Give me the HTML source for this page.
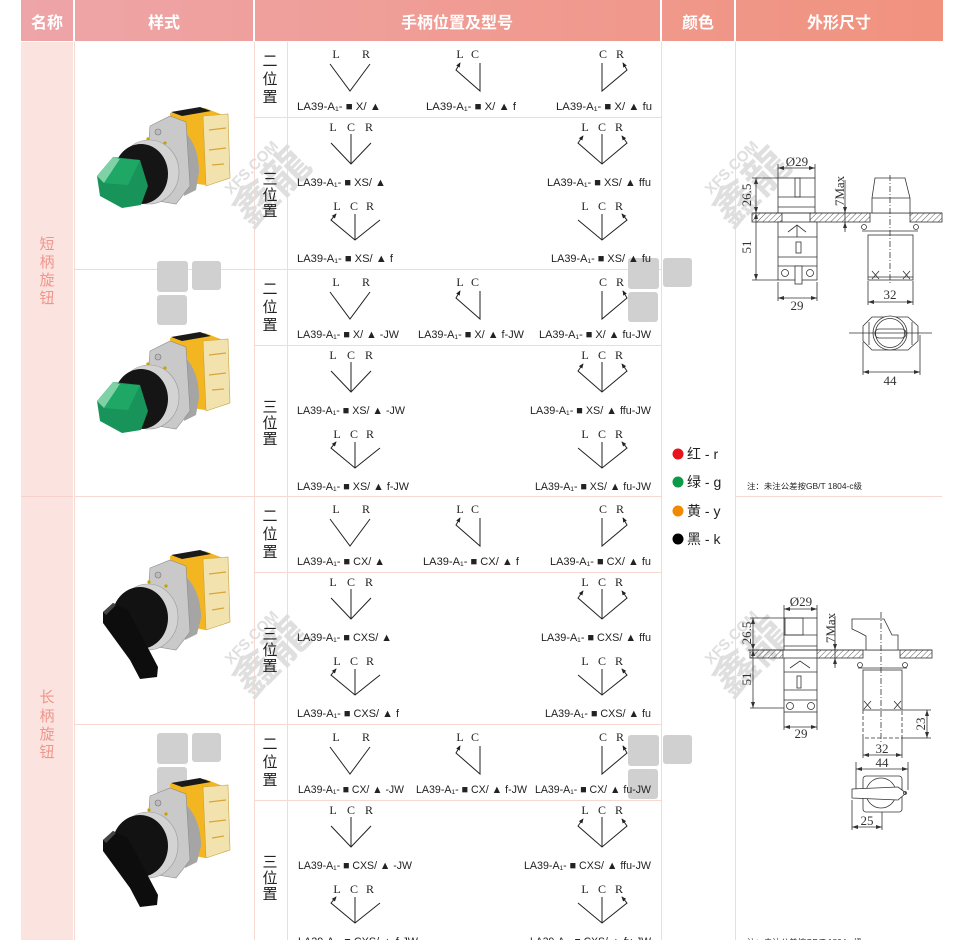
<!DOCTYPE html>
<html><head><meta charset="utf-8">
<style>
html,body{margin:0;padding:0;background:#fff;width:970px;height:940px;overflow:hidden}
svg{display:block}
.m{font-family:"Liberation Sans","Noto Sans CJK SC",sans-serif;font-size:11px;fill:#222}
.lb{font-family:"Liberation Serif",serif;font-size:12px;fill:#222;text-anchor:middle}
.pos{font-family:"Liberation Sans","Noto Sans CJK SC",sans-serif;font-size:15px;fill:#222;text-anchor:middle}
.side{font-family:"Liberation Sans","Noto Sans CJK SC",sans-serif;font-size:15px;fill:#f0958b;text-anchor:middle}
.hd{font-family:"Liberation Sans","Noto Sans CJK SC",sans-serif;font-size:16px;font-weight:bold;fill:#fff;text-anchor:middle}
.dt{font-family:"Liberation Serif",serif;font-size:13px;fill:#333;text-anchor:middle}
.clr{font-family:"Liberation Sans","Noto Sans CJK SC",sans-serif;font-size:14px;fill:#222}
.wm{font-family:"Liberation Sans","Noto Sans CJK SC",sans-serif;fill:#dcdcdc;font-weight:bold;text-anchor:middle}
</style></head><body>
<svg width="970" height="940" viewBox="0 0 970 940" xmlns="http://www.w3.org/2000/svg">
<defs>
<linearGradient id="hdr" gradientUnits="userSpaceOnUse" x1="21" y1="0" x2="943" y2="0">
<stop offset="0" stop-color="#eea5a8"/><stop offset="1" stop-color="#f1927e"/>
</linearGradient>
<marker id="ah" viewBox="0 0 6 6" markerWidth="5" markerHeight="5" refX="5" refY="3" orient="auto-start-reverse" markerUnits="userSpaceOnUse"><path d="M0,0.5 L6,3 L0,5.5 z" fill="#222"/></marker>
<marker id="dm" viewBox="0 0 6 4" markerWidth="6" markerHeight="4" refX="6" refY="2" orient="auto-start-reverse" markerUnits="userSpaceOnUse"><path d="M0,0 L6,2 L0,4 z" fill="#333"/></marker>
<pattern id="hatch" width="4" height="4" patternUnits="userSpaceOnUse" patternTransform="rotate(45)"><line x1="0" y1="0" x2="0" y2="4" stroke="#333" stroke-width="0.8"/></pattern>

<g id="g2" fill="none" stroke="#222" stroke-width="1">
<polyline points="330,23 350,50 370,23"/>
<polyline points="480,22 480,50 456,29 460,22" marker-end="url(#ah)"/>
<polyline points="602,22 602,50 627,29 623,22" marker-end="url(#ah)"/>
</g>
<g id="g3a" fill="none" stroke="#222" stroke-width="1">
<polyline points="331,26 351,47 371,26"/><line x1="351" y1="17" x2="351" y2="47"/>
<polyline points="583,19 578,26 602,47 627,26 622,19" marker-start="url(#ah)" marker-end="url(#ah)"/>
<line x1="602" y1="17" x2="602" y2="47"/>
</g>
<g id="g3b" fill="none" stroke="#222" stroke-width="1">
<polyline points="336,21 331,27 355,47 380,27" marker-start="url(#ah)"/>
<line x1="355" y1="21" x2="355" y2="47"/>
<polyline points="578,27 602,47 627,27 622,21" marker-end="url(#ah)"/>
<line x1="602" y1="21" x2="602" y2="47"/>
</g>

<g id="pshort">
<polygon points="170,113 205,108 228,117 229,178 205,185 185,182 174,175" fill="#f3b620"/>
<polygon points="171,112 200,107 211,111 182,116" fill="#1a1a1a"/>
<polygon points="203,116 228,114 230,178 206,186" fill="#f2e2ae" stroke="#c9a13a" stroke-width="0.6"/>
<path d="M209,130 L226,128 M209,150 L226,148 M212,165 L224,164" stroke="#d8a53a" stroke-width="1.2"/>
<path d="M176,124 Q199,140 199,172 L196,190 L184,196 Q188,160 172,130 Z" fill="#a5a5a5"/>
<polygon points="150,126 170,116 186,122 190,186 176,204 152,200 146,178" fill="#c9c9c9" stroke="#8c8c8c" stroke-width="0.6"/>
<circle cx="158" cy="132" r="3" fill="#bbb" stroke="#777" stroke-width="0.6"/>
<circle cx="148" cy="139" r="1.6" fill="#c8a000"/>
<circle cx="165" cy="143" r="1.6" fill="#c8a000"/>
<ellipse cx="149" cy="172" rx="30" ry="32" fill="#d3d3d3" stroke="#9a9a9a" stroke-width="0.6"/>
<ellipse cx="141" cy="174" rx="27" ry="30" fill="#151515"/>
<polygon points="97,176 113,157 140,160 148,186 141,205 122,208 100,196" fill="#18945a"/>
<polygon points="97,176 113,157 120,159 104,183" fill="#7fd1a6"/>
<polygon points="104,183 120,159 140,160 128,185" fill="#1fa865"/>
</g>
<g id="plong">
<polygon points="170,556 205,551 228,560 229,622 205,630 185,626 174,618" fill="#f3b620"/>
<polygon points="171,555 200,550 211,554 182,559" fill="#1a1a1a"/>
<polygon points="203,559 228,557 230,622 206,630" fill="#f2e2ae" stroke="#c9a13a" stroke-width="0.6"/>
<path d="M209,574 L226,572 M209,594 L226,592 M212,610 L224,608" stroke="#d8a53a" stroke-width="1.2"/>
<path d="M176,568 Q201,585 201,618 L197,634 L185,640 Q189,604 172,574 Z" fill="#a5a5a5"/>
<polygon points="150,568 170,560 186,566 190,632 176,650 152,646 146,622" fill="#c9c9c9" stroke="#8c8c8c" stroke-width="0.6"/>
<circle cx="158" cy="575" r="3" fill="#bbb" stroke="#777" stroke-width="0.6"/>
<circle cx="149" cy="582" r="1.6" fill="#c8a000"/>
<circle cx="166" cy="586" r="1.6" fill="#c8a000"/>
<ellipse cx="148" cy="617" rx="30" ry="33" fill="#d3d3d3" stroke="#9a9a9a" stroke-width="0.6"/>
<ellipse cx="140" cy="618" rx="28" ry="31" fill="#121212"/>
<polygon points="103,612 113,603 128,610 158,667 157,677 140,679 130,660 103,623" fill="#0d0d0d"/>
<polygon points="103,612 113,603 116,605 106,615" fill="#444"/>
</g>
<g id="logo" fill="#d0d0d0">
<rect x="0" y="0" width="31" height="31" rx="3"/>
<rect x="35" y="0" width="29" height="29" rx="3"/>
<rect x="0" y="34" width="30" height="30" rx="3"/>
</g>
</defs>

<!-- header -->
<rect x="21" y="0" width="52" height="41" fill="url(#hdr)"/>
<rect x="75" y="0" width="178" height="41" fill="url(#hdr)"/>
<rect x="255" y="0" width="405" height="41" fill="url(#hdr)"/>
<rect x="662" y="0" width="72" height="41" fill="url(#hdr)"/>
<rect x="736" y="0" width="207" height="41" fill="url(#hdr)"/>
<text class="hd" x="47" y="28">名称</text>
<text class="hd" x="164" y="28">样式</text>
<text class="hd" x="457" y="28">手柄位置及型号</text>
<text class="hd" x="698" y="28">颜色</text>
<text class="hd" x="839" y="28">外形尺寸</text>

<!-- left column -->
<rect x="21" y="42" width="52" height="898" fill="#fbe4e0"/>
<line x1="21" y1="496.5" x2="73" y2="496.5" stroke="#f7d2cc" stroke-width="1"/>
<text class="side" x="47" y="249">短</text>
<text class="side" x="47" y="267">柄</text>
<text class="side" x="47" y="285">旋</text>
<text class="side" x="47" y="303">钮</text>
<text class="side" x="47" y="702">长</text>
<text class="side" x="47" y="721">柄</text>
<text class="side" x="47" y="739">旋</text>
<text class="side" x="47" y="757">钮</text>

<!-- grid -->
<g stroke="#f8d8d3" stroke-width="1">
<line x1="74.5" y1="42" x2="74.5" y2="940"/>
<line x1="254.5" y1="42" x2="254.5" y2="940"/>
<line x1="287.5" y1="42" x2="287.5" y2="940"/>
<line x1="661.5" y1="42" x2="661.5" y2="940"/>
<line x1="735.5" y1="42" x2="735.5" y2="940"/>
<line x1="255" y1="117.5" x2="661" y2="117.5"/>
<line x1="255" y1="345.5" x2="661" y2="345.5"/>
<line x1="255" y1="572.5" x2="661" y2="572.5"/>
<line x1="255" y1="800.5" x2="661" y2="800.5"/>
<line x1="74" y1="269.5" x2="661" y2="269.5"/>
<line x1="74" y1="496.5" x2="661" y2="496.5"/>
<line x1="74" y1="724.5" x2="661" y2="724.5"/>
<line x1="736" y1="496.5" x2="942" y2="496.5"/>
</g>

<!-- watermarks -->
<use href="#logo" transform="translate(157,261)"/>
<use href="#logo" transform="translate(628,258)"/>
<use href="#logo" transform="translate(157,733)"/>
<use href="#logo" transform="translate(628,735)"/>
<g opacity="0.9">
<g transform="translate(272,188) rotate(-45)"><text class="wm" x="0" y="14" font-size="44">鑫龍</text><text class="wm" x="0" y="-24" font-size="15">XFS.COM</text></g>
<g transform="translate(752,188) rotate(-45)"><text class="wm" x="0" y="14" font-size="44">鑫龍</text><text class="wm" x="0" y="-24" font-size="15">XFS.COM</text></g>
<g transform="translate(272,658) rotate(-45)"><text class="wm" x="0" y="14" font-size="44">鑫龍</text><text class="wm" x="0" y="-24" font-size="15">XFS.COM</text></g>
<g transform="translate(752,658) rotate(-45)"><text class="wm" x="0" y="14" font-size="44">鑫龍</text><text class="wm" x="0" y="-24" font-size="15">XFS.COM</text></g>
</g>

<!-- products -->
<use href="#pshort"/>
<use href="#pshort" transform="translate(0,225)"/>
<use href="#plong"/>
<use href="#plong" transform="translate(0,228)"/>

<!-- position labels -->
<text class="pos" x="270" y="66">二</text><text class="pos" x="270" y="84">位</text><text class="pos" x="270" y="102">置</text>
<text class="pos" x="270" y="184">三</text><text class="pos" x="270" y="200">位</text><text class="pos" x="270" y="216">置</text>
<text class="pos" x="270" y="294">二</text><text class="pos" x="270" y="312">位</text><text class="pos" x="270" y="330">置</text>
<text class="pos" x="270" y="412">三</text><text class="pos" x="270" y="428">位</text><text class="pos" x="270" y="444">置</text>
<text class="pos" x="270" y="521">二</text><text class="pos" x="270" y="539">位</text><text class="pos" x="270" y="557">置</text>
<text class="pos" x="270" y="639">三</text><text class="pos" x="270" y="655">位</text><text class="pos" x="270" y="671">置</text>
<text class="pos" x="270" y="749">二</text><text class="pos" x="270" y="767">位</text><text class="pos" x="270" y="785">置</text>
<text class="pos" x="270" y="867">三</text><text class="pos" x="270" y="883">位</text><text class="pos" x="270" y="899">置</text>

<!-- diagrams lines -->
<use href="#g2" transform="translate(0,41)"/>
<use href="#g3a" transform="translate(0,117)"/>
<use href="#g3b" transform="translate(0,193)"/>
<use href="#g2" transform="translate(0,269)"/>
<use href="#g3a" transform="translate(0,345)"/>
<use href="#g3b" transform="translate(0,421)"/>
<use href="#g2" transform="translate(0,496)"/>
<use href="#g3a" transform="translate(0,572)"/>
<use href="#g3b" transform="translate(0,648)"/>
<use href="#g2" transform="translate(0,724)"/>
<use href="#g3a" transform="translate(0,800)"/>
<use href="#g3b" transform="translate(0,876)"/>

<!-- diagram letters -->
<g class="lb">
<text class="lb" x="336" y="58">L</text><text class="lb" x="366" y="58">R</text>
<text class="lb" x="460" y="58">L</text><text class="lb" x="475" y="58">C</text>
<text class="lb" x="603" y="58">C</text><text class="lb" x="620" y="58">R</text>
<text class="lb" x="333" y="131">L</text><text class="lb" x="351" y="131">C</text><text class="lb" x="369" y="131">R</text>
<text class="lb" x="585" y="131">L</text><text class="lb" x="602" y="131">C</text><text class="lb" x="619" y="131">R</text>
<text class="lb" x="337" y="210">L</text><text class="lb" x="354" y="210">C</text><text class="lb" x="370" y="210">R</text>
<text class="lb" x="585" y="210">L</text><text class="lb" x="602" y="210">C</text><text class="lb" x="619" y="210">R</text>

<text class="lb" x="336" y="286">L</text><text class="lb" x="366" y="286">R</text>
<text class="lb" x="460" y="286">L</text><text class="lb" x="475" y="286">C</text>
<text class="lb" x="603" y="286">C</text><text class="lb" x="620" y="286">R</text>
<text class="lb" x="333" y="359">L</text><text class="lb" x="351" y="359">C</text><text class="lb" x="369" y="359">R</text>
<text class="lb" x="585" y="359">L</text><text class="lb" x="602" y="359">C</text><text class="lb" x="619" y="359">R</text>
<text class="lb" x="337" y="438">L</text><text class="lb" x="354" y="438">C</text><text class="lb" x="370" y="438">R</text>
<text class="lb" x="585" y="438">L</text><text class="lb" x="602" y="438">C</text><text class="lb" x="619" y="438">R</text>

<text class="lb" x="336" y="513">L</text><text class="lb" x="366" y="513">R</text>
<text class="lb" x="460" y="513">L</text><text class="lb" x="475" y="513">C</text>
<text class="lb" x="603" y="513">C</text><text class="lb" x="620" y="513">R</text>
<text class="lb" x="333" y="586">L</text><text class="lb" x="351" y="586">C</text><text class="lb" x="369" y="586">R</text>
<text class="lb" x="585" y="586">L</text><text class="lb" x="602" y="586">C</text><text class="lb" x="619" y="586">R</text>
<text class="lb" x="337" y="665">L</text><text class="lb" x="354" y="665">C</text><text class="lb" x="370" y="665">R</text>
<text class="lb" x="585" y="665">L</text><text class="lb" x="602" y="665">C</text><text class="lb" x="619" y="665">R</text>

<text class="lb" x="336" y="741">L</text><text class="lb" x="366" y="741">R</text>
<text class="lb" x="460" y="741">L</text><text class="lb" x="475" y="741">C</text>
<text class="lb" x="603" y="741">C</text><text class="lb" x="620" y="741">R</text>
<text class="lb" x="333" y="814">L</text><text class="lb" x="351" y="814">C</text><text class="lb" x="369" y="814">R</text>
<text class="lb" x="585" y="814">L</text><text class="lb" x="602" y="814">C</text><text class="lb" x="619" y="814">R</text>
<text class="lb" x="337" y="893">L</text><text class="lb" x="354" y="893">C</text><text class="lb" x="370" y="893">R</text>
<text class="lb" x="585" y="893">L</text><text class="lb" x="602" y="893">C</text><text class="lb" x="619" y="893">R</text>
</g>

<!-- model texts -->
<text class="m" x="297" y="110" textLength="84" lengthAdjust="spacingAndGlyphs">LA39-A₁- ■ X/ ▲</text>
<text class="m" x="426" y="110" textLength="90" lengthAdjust="spacingAndGlyphs">LA39-A₁- ■ X/ ▲ f</text>
<text class="m" x="556" y="110" textLength="96" lengthAdjust="spacingAndGlyphs">LA39-A₁- ■ X/ ▲ fu</text>
<text class="m" x="297" y="186" textLength="89" lengthAdjust="spacingAndGlyphs">LA39-A₁- ■ XS/ ▲</text>
<text class="m" x="547" y="186" textLength="104" lengthAdjust="spacingAndGlyphs">LA39-A₁- ■ XS/ ▲ ffu</text>
<text class="m" x="297" y="262" textLength="96" lengthAdjust="spacingAndGlyphs">LA39-A₁- ■ XS/ ▲ f</text>
<text class="m" x="551" y="262" textLength="100" lengthAdjust="spacingAndGlyphs">LA39-A₁- ■ XS/ ▲ fu</text>

<text class="m" x="297" y="338" textLength="102" lengthAdjust="spacingAndGlyphs">LA39-A₁- ■ X/ ▲ -JW</text>
<text class="m" x="418" y="338" textLength="106" lengthAdjust="spacingAndGlyphs">LA39-A₁- ■ X/ ▲ f-JW</text>
<text class="m" x="539" y="338" textLength="112" lengthAdjust="spacingAndGlyphs">LA39-A₁- ■ X/ ▲ fu-JW</text>
<text class="m" x="297" y="414" textLength="108" lengthAdjust="spacingAndGlyphs">LA39-A₁- ■ XS/ ▲ -JW</text>
<text class="m" x="530" y="414" textLength="121" lengthAdjust="spacingAndGlyphs">LA39-A₁- ■ XS/ ▲ ffu-JW</text>
<text class="m" x="297" y="490" textLength="112" lengthAdjust="spacingAndGlyphs">LA39-A₁- ■ XS/ ▲ f-JW</text>
<text class="m" x="535" y="490" textLength="116" lengthAdjust="spacingAndGlyphs">LA39-A₁- ■ XS/ ▲ fu-JW</text>

<text class="m" x="297" y="565" textLength="88" lengthAdjust="spacingAndGlyphs">LA39-A₁- ■ CX/ ▲</text>
<text class="m" x="423" y="565" textLength="96" lengthAdjust="spacingAndGlyphs">LA39-A₁- ■ CX/ ▲ f</text>
<text class="m" x="550" y="565" textLength="101" lengthAdjust="spacingAndGlyphs">LA39-A₁- ■ CX/ ▲ fu</text>
<text class="m" x="297" y="641" textLength="95" lengthAdjust="spacingAndGlyphs">LA39-A₁- ■ CXS/ ▲</text>
<text class="m" x="541" y="641" textLength="110" lengthAdjust="spacingAndGlyphs">LA39-A₁- ■ CXS/ ▲ ffu</text>
<text class="m" x="297" y="717" textLength="102" lengthAdjust="spacingAndGlyphs">LA39-A₁- ■ CXS/ ▲ f</text>
<text class="m" x="545" y="717" textLength="106" lengthAdjust="spacingAndGlyphs">LA39-A₁- ■ CXS/ ▲ fu</text>

<text class="m" x="298" y="793" textLength="106" lengthAdjust="spacingAndGlyphs">LA39-A₁- ■ CX/ ▲ -JW</text>
<text class="m" x="416" y="793" textLength="111" lengthAdjust="spacingAndGlyphs">LA39-A₁- ■ CX/ ▲ f-JW</text>
<text class="m" x="535" y="793" textLength="116" lengthAdjust="spacingAndGlyphs">LA39-A₁- ■ CX/ ▲ fu-JW</text>
<text class="m" x="298" y="869" textLength="114" lengthAdjust="spacingAndGlyphs">LA39-A₁- ■ CXS/ ▲ -JW</text>
<text class="m" x="524" y="869" textLength="127" lengthAdjust="spacingAndGlyphs">LA39-A₁- ■ CXS/ ▲ ffu-JW</text>
<text class="m" x="298" y="945" textLength="120" lengthAdjust="spacingAndGlyphs">LA39-A₁- ■ CXS/ ▲ f-JW</text>
<text class="m" x="530" y="945" textLength="121" lengthAdjust="spacingAndGlyphs">LA39-A₁- ■ CXS/ ▲ fu-JW</text>

<!-- colors -->
<circle cx="678" cy="454" r="5.5" fill="#e8141b"/>
<circle cx="678" cy="482" r="5.5" fill="#0b9a48"/>
<circle cx="678" cy="511" r="5.5" fill="#f18a00"/>
<circle cx="678" cy="539" r="5.5" fill="#000"/>
<text class="clr" x="687" y="459">红 - r</text>
<text class="clr" x="687" y="487">绿 - g</text>
<text class="clr" x="687" y="516">黄 - y</text>
<text class="clr" x="687" y="544">黑 - k</text>

<!-- dimension drawing 1 -->
<g stroke="#333" stroke-width="0.8" fill="none">
<rect x="778" y="178" width="37" height="35" fill="#fff"/>
<line x1="778" y1="197" x2="815" y2="197"/>
<line x1="778" y1="207" x2="815" y2="207"/>
<rect x="795" y="178" width="5" height="19"/>
<line x1="778" y1="164" x2="778" y2="178"/><line x1="815" y1="164" x2="815" y2="178"/>
<line x1="778" y1="168" x2="815" y2="168" marker-start="url(#dm)" marker-end="url(#dm)"/>
<line x1="752" y1="178" x2="778" y2="178"/>
<line x1="756" y1="178" x2="756" y2="213" marker-start="url(#dm)" marker-end="url(#dm)"/>
<line x1="756" y1="213" x2="756" y2="280" marker-start="url(#dm)" marker-end="url(#dm)"/>
<line x1="752" y1="280" x2="778" y2="280"/>
<rect x="752" y="213" width="30" height="9" fill="url(#hatch)"/>
<rect x="810" y="213" width="60" height="9" fill="url(#hatch)"/>
<rect x="910" y="213" width="32" height="9" fill="url(#hatch)"/>
<line x1="752" y1="213" x2="942" y2="213"/>
<rect x="778" y="222" width="39" height="58" fill="#fff"/>
<line x1="778" y1="237" x2="817" y2="237"/>
<line x1="778" y1="257" x2="817" y2="257"/>
<line x1="778" y1="266" x2="817" y2="266"/>
<rect x="796" y="242" width="5" height="11"/>
<rect x="795" y="266" width="7" height="18" fill="#fff"/>
<circle cx="785" cy="273" r="3.5"/><circle cx="810" cy="273" r="3.5"/>
<path d="M788,232 L797,225 L806,232 M797,225 L797,237"/>
<line x1="778" y1="282" x2="778" y2="301"/><line x1="817" y1="282" x2="817" y2="301"/>
<line x1="778" y1="298" x2="817" y2="298" marker-start="url(#dm)" marker-end="url(#dm)"/>
<path d="M875,178 L905,178 L910,198 L910,213 L872,213 L872,198 Z" fill="#fff"/>
<line x1="872" y1="198" x2="910" y2="198"/>
<line x1="845" y1="180" x2="845" y2="232"/>
<path d="M845,205 L845,213" marker-end="url(#dm)"/><path d="M845,230 L845,222" marker-end="url(#dm)"/>
<line x1="862" y1="231" x2="918" y2="231"/>
<circle cx="864" cy="227" r="2.5"/><circle cx="916" cy="227" r="2.5"/>
<rect x="868" y="235" width="45" height="45" fill="#fff"/>
<path d="M872,271 L879,279 M879,271 L872,279 M903,271 L910,279 M910,271 L903,279"/>
<line x1="868" y1="277" x2="913" y2="277"/>
<line x1="890" y1="175" x2="890" y2="283" stroke-dasharray="6 2 1 2"/>
<line x1="868" y1="281" x2="868" y2="305"/><line x1="913" y1="281" x2="913" y2="305"/>
<line x1="868" y1="302" x2="913" y2="302" marker-start="url(#dm)" marker-end="url(#dm)"/>
<polygon points="863,326 872,317 908,317 918,326 918,341 908,350 872,350 863,341" fill="#fff"/>
<line x1="869" y1="322" x2="869" y2="345"/><line x1="912" y1="322" x2="912" y2="345"/>
<circle cx="890" cy="333" r="17" fill="#fff"/>
<circle cx="890" cy="333" r="14.5"/>
<rect x="875" y="329" width="31" height="9" rx="4"/>
<line x1="849" y1="333" x2="932" y2="333"/>
<line x1="863" y1="342" x2="863" y2="375"/><line x1="920" y1="335" x2="920" y2="375"/>
<line x1="863" y1="372" x2="920" y2="372" marker-start="url(#dm)" marker-end="url(#dm)"/>
</g>
<text class="dt" x="797" y="166">Ø29</text>
<text class="dt" transform="translate(751,195) rotate(-90)">26.5</text>
<text class="dt" transform="translate(751,247) rotate(-90)">51</text>
<text class="dt" x="797" y="310">29</text>
<text class="dt" transform="translate(844,191) rotate(-90)">7Max</text>
<text class="dt" x="890" y="299">32</text>
<text class="dt" x="890" y="385">44</text>
<text class="m" x="747" y="489" font-size="8" textLength="115" lengthAdjust="spacingAndGlyphs" style="font-size:8px">注：未注公差按GB/T 1804-c级</text>

<!-- dimension drawing 2 -->
<g stroke="#333" stroke-width="0.8" fill="none">
<rect x="784" y="618" width="33" height="32" fill="#fff"/>
<rect x="785" y="618" width="18" height="17"/>
<line x1="784" y1="635" x2="817" y2="635"/>
<line x1="784" y1="646" x2="817" y2="646"/>
<line x1="784" y1="605" x2="784" y2="618"/><line x1="817" y1="605" x2="817" y2="618"/>
<line x1="784" y1="609" x2="817" y2="609" marker-start="url(#dm)" marker-end="url(#dm)"/>
<line x1="750" y1="618" x2="784" y2="618"/>
<line x1="753" y1="618" x2="753" y2="650" marker-start="url(#dm)" marker-end="url(#dm)"/>
<rect x="750" y="650" width="33" height="8" fill="url(#hatch)"/>
<rect x="817" y="650" width="46" height="8" fill="url(#hatch)"/>
<rect x="900" y="650" width="32" height="8" fill="url(#hatch)"/>
<line x1="748" y1="650" x2="932" y2="650"/>
<line x1="753" y1="650" x2="753" y2="708" marker-start="url(#dm)" marker-end="url(#dm)"/>
<line x1="750" y1="708" x2="784" y2="708"/>
<rect x="784" y="658" width="33" height="54" fill="#fff"/>
<line x1="784" y1="672" x2="817" y2="672"/>
<line x1="784" y1="690" x2="817" y2="690"/>
<line x1="784" y1="700" x2="817" y2="700"/>
<rect x="797" y="676" width="4" height="12"/>
<path d="M790,668 L800,661 L810,668"/>
<circle cx="790" cy="706" r="3.5"/><circle cx="811" cy="706" r="3.5"/>
<line x1="784" y1="712" x2="784" y2="730"/><line x1="817" y1="712" x2="817" y2="730"/>
<line x1="784" y1="727" x2="817" y2="727" marker-start="url(#dm)" marker-end="url(#dm)"/>
<path d="M852,619 L884,619 L892,635 L898,635 L898,650 L866,650 L866,636 Q859,632 852,629 Z" fill="#fff"/>
<line x1="835" y1="616" x2="835" y2="668"/>
<path d="M835,642 L835,650" marker-end="url(#dm)"/><path d="M835,666 L835,658" marker-end="url(#dm)"/>
<circle cx="860" cy="665" r="2.5"/><circle cx="905" cy="665" r="2.5"/>
<line x1="858" y1="668" x2="907" y2="668"/>
<rect x="863" y="670" width="39" height="40" fill="#fff"/>
<path d="M863,710 L863,738 L902,738 L902,710" stroke-dasharray="4 2"/>
<path d="M864,701 L871,709 M871,701 L864,709 M894,701 L901,709 M901,701 L894,709"/>
<line x1="881" y1="612" x2="881" y2="742" stroke-dasharray="6 2 1 2"/>
<line x1="902" y1="710" x2="931" y2="710"/><line x1="902" y1="738" x2="931" y2="738"/>
<line x1="927" y1="710" x2="927" y2="738" marker-start="url(#dm)" marker-end="url(#dm)"/>
<line x1="863" y1="738" x2="863" y2="758"/><line x1="902" y1="738" x2="902" y2="758"/>
<line x1="863" y1="755" x2="902" y2="755" marker-start="url(#dm)" marker-end="url(#dm)"/>
<line x1="856" y1="762" x2="856" y2="790"/><line x1="908" y1="762" x2="908" y2="790"/>
<line x1="856" y1="769" x2="908" y2="769" marker-start="url(#dm)" marker-end="url(#dm)"/>
<rect x="863" y="776" width="39" height="36" rx="3" fill="#fff"/>
<circle cx="881" cy="793" r="15" fill="#fff"/>
<path d="M852,789 L898,787 L906,793 L898,800 L852,798 Z" fill="#fff"/>
<circle cx="905" cy="793" r="1.5"/>
<line x1="852" y1="800" x2="852" y2="830"/><line x1="882" y1="812" x2="882" y2="830"/>
<line x1="852" y1="827" x2="882" y2="827" marker-start="url(#dm)" marker-end="url(#dm)"/>
</g>
<text class="dt" x="801" y="606">Ø29</text>
<text class="dt" transform="translate(751,633) rotate(-90)">26.5</text>
<text class="dt" transform="translate(751,679) rotate(-90)">51</text>
<text class="dt" x="801" y="738">29</text>
<text class="dt" transform="translate(835,628) rotate(-90)">7Max</text>
<text class="dt" transform="translate(925,724) rotate(-90)">23</text>
<text class="dt" x="882" y="753">32</text>
<text class="dt" x="882" y="767">44</text>
<text class="dt" x="867" y="825">25</text>
<text class="m" x="747" y="945" textLength="115" lengthAdjust="spacingAndGlyphs" style="font-size:8px">注：未注公差按GB/T 1804-c级</text>
</svg>
</body></html>
